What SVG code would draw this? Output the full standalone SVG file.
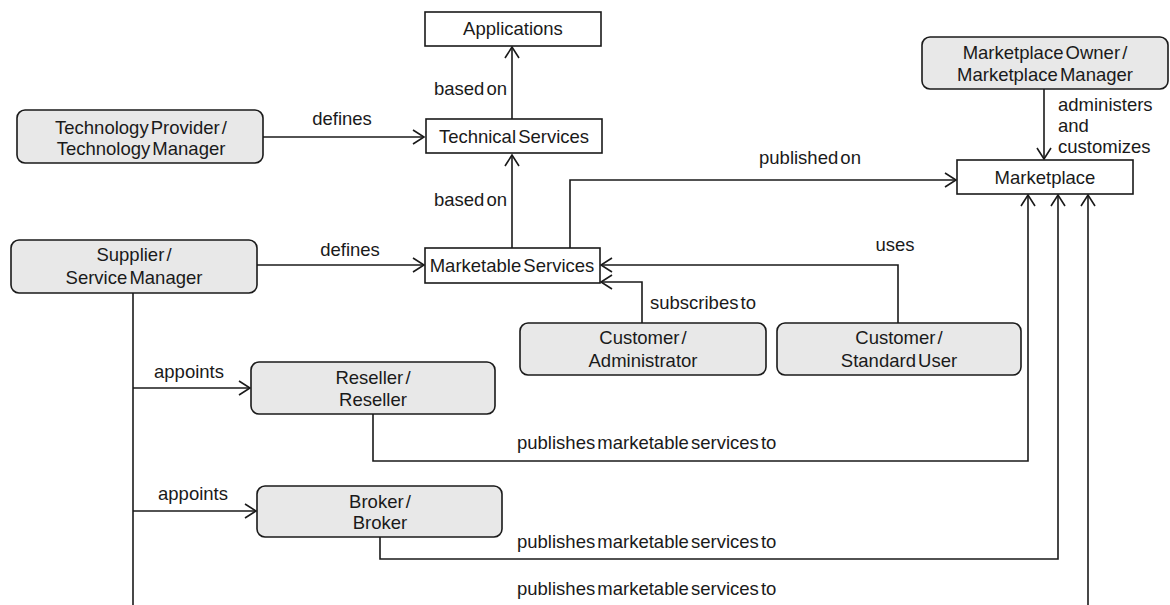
<svg xmlns="http://www.w3.org/2000/svg" width="1170" height="605" viewBox="0 0 1170 605">
<defs>
<style>
text{font-family:"Liberation Sans",Arial,sans-serif;font-size:18.5px;fill:#1a1a1a;word-spacing:-3px}
.c{text-anchor:middle}
.e{text-anchor:end}
.box{fill:#fff;stroke:#1a1a1a;stroke-width:1.6}
.role{fill:#e8e8e8;stroke:#1a1a1a;stroke-width:1.6}
.ln{fill:none;stroke:#1a1a1a;stroke-width:1.6}
</style>
<marker id="ar" markerWidth="14" markerHeight="16" refX="12" refY="8" orient="auto" markerUnits="userSpaceOnUse">
<path d="M1,1 L12,8 L1,15" fill="none" stroke="#1a1a1a" stroke-width="1.6"/>
</marker>
</defs>
<rect width="1170" height="605" fill="#fff"/>
<g id="connectors">
<path class="ln" d="M512,119 V47" marker-end="url(#ar)"/>
<path class="ln" d="M512,248 V155" marker-end="url(#ar)"/>
<path class="ln" d="M263,137 H424" marker-end="url(#ar)"/>
<path class="ln" d="M257,265 H424" marker-end="url(#ar)"/>
<path class="ln" d="M570,248 V180 H956" marker-end="url(#ar)"/>
<path class="ln" d="M1044,89 V159" marker-end="url(#ar)"/>
<path class="ln" d="M898,323 V265 H601" marker-end="url(#ar)"/>
<path class="ln" d="M642,323 V282 H601" marker-end="url(#ar)"/>
<path class="ln" d="M133,293 V605"/>
<path class="ln" d="M133,388 H250" marker-end="url(#ar)"/>
<path class="ln" d="M133,511 H256" marker-end="url(#ar)"/>
<path class="ln" d="M373,414 V461 H1028 V195" marker-end="url(#ar)"/>
<path class="ln" d="M380,537 V559 H1058 V195" marker-end="url(#ar)"/>
<path class="ln" d="M1088,605 V195" marker-end="url(#ar)"/>
<text class="e" x="507" y="95">based on</text>
<text class="e" x="507" y="206">based on</text>
<text class="c" x="342" y="125">defines</text>
<text class="c" x="350" y="256">defines</text>
<text class="c" x="810" y="164">published on</text>
<text x="1058" y="111">administers</text>
<text x="1058" y="132">and</text>
<text x="1058" y="153">customizes</text>
<text class="c" x="895" y="251">uses</text>
<text x="650" y="309">subscribes to</text>
<text class="c" x="189" y="378">appoints</text>
<text class="c" x="193" y="500">appoints</text>
<text x="517" y="449">publishes marketable services to</text>
<text x="517" y="548">publishes marketable services to</text>
<text x="517" y="595">publishes marketable services to</text>
</g>
<g id="applications"><rect class="box" x="425" y="12" width="176" height="34"/><text class="c" x="513" y="35">Applications</text></g>
<g id="technical-services"><rect class="box" x="426" y="119" width="176" height="34"/><text class="c" x="514" y="143">Technical Services</text></g>
<g id="marketable-services"><rect class="box" x="425" y="248" width="175" height="35"/><text class="c" x="512" y="272">Marketable Services</text></g>
<g id="technology-provider"><rect class="role" x="17" y="110" width="246" height="53" rx="8"/><text class="c" x="141" y="134">Technology Provider /</text><text class="c" x="141" y="155">Technology Manager</text></g>
<g id="supplier"><rect class="role" x="11" y="240" width="246" height="53" rx="8"/><text class="c" x="134" y="261">Supplier /</text><text class="c" x="134" y="284">Service Manager</text></g>
<g id="marketplace-owner"><rect class="role" x="922" y="37" width="246" height="52" rx="8"/><text class="c" x="1045" y="59">Marketplace Owner /</text><text class="c" x="1045" y="81">Marketplace Manager</text></g>
<g id="marketplace"><rect class="box" x="957" y="160" width="176" height="34"/><text class="c" x="1045" y="184">Marketplace</text></g>
<g id="customer-admin"><rect class="role" x="520" y="323" width="246" height="52" rx="8"/><text class="c" x="643" y="344">Customer /</text><text class="c" x="643" y="367">Administrator</text></g>
<g id="customer-standard"><rect class="role" x="777" y="323" width="244" height="52" rx="8"/><text class="c" x="899" y="344">Customer /</text><text class="c" x="899" y="367">Standard User</text></g>
<g id="reseller"><rect class="role" x="251" y="362" width="244" height="52" rx="8"/><text class="c" x="373" y="384">Reseller /</text><text class="c" x="373" y="406">Reseller</text></g>
<g id="broker"><rect class="role" x="257" y="486" width="245" height="51" rx="8"/><text class="c" x="380" y="508">Broker /</text><text class="c" x="380" y="529">Broker</text></g>
</svg>
